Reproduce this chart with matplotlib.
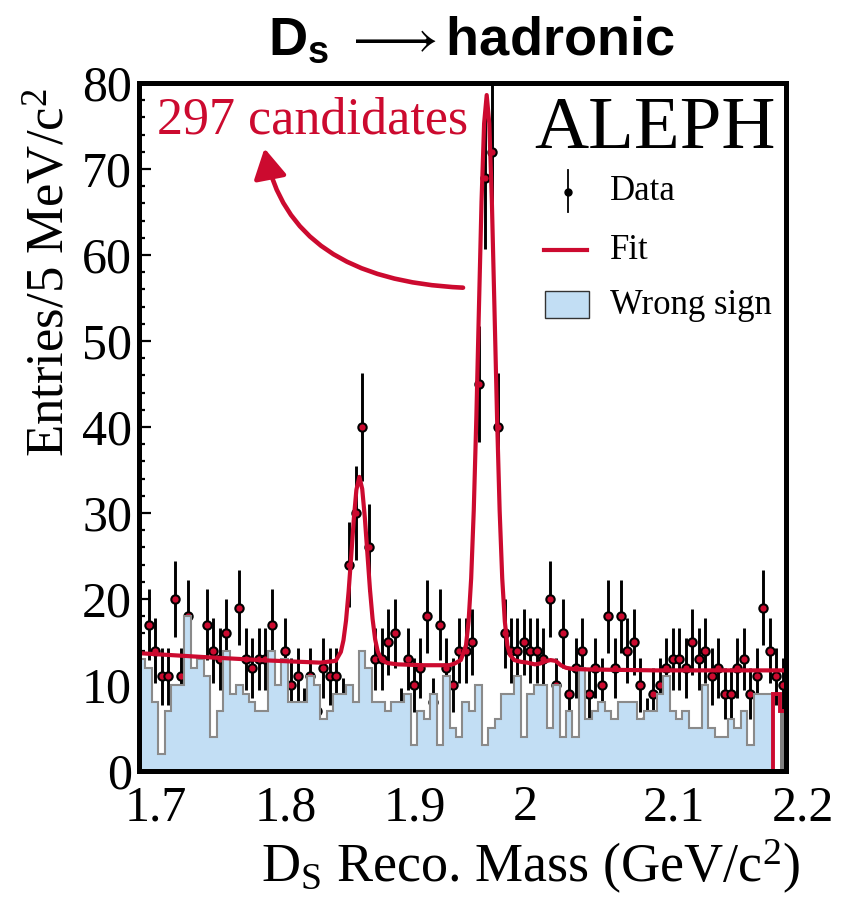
import numpy as np
import matplotlib
matplotlib.use("Agg")
import matplotlib.pyplot as plt
import matplotlib.transforms as mtransforms
from matplotlib.path import Path
from matplotlib.patches import FancyArrowPatch, Rectangle
from matplotlib.lines import Line2D
from matplotlib.ticker import MultipleLocator, FormatStrFormatter

plt.rcParams['font.family'] = ['Liberation Serif', 'DejaVu Serif']
plt.rcParams['mathtext.fontset'] = 'custom'
plt.rcParams['mathtext.rm'] = 'Liberation Serif'
plt.rcParams['mathtext.it'] = 'Liberation Serif:italic'
plt.rcParams['mathtext.bf'] = 'Liberation Sans:bold'

RED = '#cc0a2f'
BLUE = '#c2def4'

# ---- data: 100 bins of 5 MeV from 1.70 to 2.20 GeV ----
mass_lo, mass_hi, n_bins = 1.70, 2.20, 100

data_counts = [
    9, 17, 14, 11, 11, 20, 11, 18, 8, 9,
    17, 14, 13, 16, 6, 19, 13, 12, 13, 13,
    17, 7, 14, 10, 11, 7, 11, 7, 12, 11,
    11, 8, 24, 30, 40, 26, 13, 13, 15, 16,
    7, 13, 10, 12, 18, 8, 17, 12, 10, 14,
    14, 15, 45, 69, 72, 40, 16, 14, 14, 15,
    14, 14, 13, 20, 10, 16, 9, 12, 14, 9,
    12, 10, 18, 12, 18, 14, 15, 10, 6, 9,
    10, 12, 13, 13, 12, 15, 13, 14, 11, 12,
    9, 9, 12, 13, 9, 11, 19, 14, 11, 10,
]

wrong_sign = [
    13, 12, 8, 2, 7, 10, 10, 18, 12, 13,
    11, 4, 7, 14, 9, 10, 9, 8, 7, 7,
    14, 10, 13, 8, 8, 8, 11, 10, 6, 7,
    9, 9, 10, 8, 14, 12, 8, 8, 7, 8,
    8, 9, 3, 7, 6, 9, 3, 11, 5, 4,
    8, 7, 10, 3, 5, 6, 9, 9, 11, 4,
    9, 10, 10, 5, 10, 4, 7, 4, 12, 6,
    7, 8, 7, 6, 8, 8, 8, 6, 7, 7,
    9, 11, 7, 6, 7, 5, 5, 10, 5, 4,
    4, 6, 5, 7, 3, 9, 9, 9, 9, 7,
]

# last two bins drawn with red outline in the original
end_bins = [9, 7]

# fit curve
fit_mass = [1.700, 1.750, 1.800, 1.840, 1.852, 1.856, 1.858, 1.860, 1.862,
            1.864, 1.866, 1.868, 1.8703, 1.8725, 1.8745, 1.8765, 1.8785,
            1.8805, 1.8825, 1.8845, 1.8875, 1.892, 1.900, 1.920, 1.940,
            1.944, 1.9487, 1.9527, 1.9547, 1.9567, 1.9587, 1.9607, 1.9627,
            1.9647, 1.9667, 1.9687, 1.9707, 1.9727, 1.9747, 1.9767, 1.9787,
            1.9807, 1.9827, 1.9847, 1.9867, 1.990, 1.995, 2.000, 2.006,
            2.010, 2.014, 2.018, 2.022, 2.026, 2.030, 2.036, 2.050, 2.100,
            2.200]
fit_value = [13.7, 13.25, 12.85, 12.6, 12.8, 13.85, 15.2, 17.5, 20.9,
             25.0, 29.3, 32.7, 34.2, 32.8, 29.5, 25.3, 21.1,
             17.7, 15.3, 13.9, 12.9, 12.55, 12.4, 12.3, 12.3,
             12.5, 12.9, 14.6, 17.4, 22.4, 30.3, 41.1, 53.8,
             66.2, 75.3, 78.6, 75.3, 66.2, 53.8, 41.1, 30.3,
             22.4, 17.4, 14.6, 13.5, 12.9, 12.7, 12.6, 12.4,
             12.5, 12.75, 12.9, 12.8, 12.3, 12.0, 11.85, 11.8, 11.7,
             11.7]

edges = np.linspace(mass_lo, mass_hi, n_bins + 1)
centers = 0.5 * (edges[:-1] + edges[1:])
counts = np.array(data_counts, dtype=float)

fig = plt.figure(figsize=(8.43, 9.10), dpi=100)
ax = fig.add_axes([139 / 843, 139 / 910, 647 / 843, 688 / 910])

# data points (drawn under the wrong-sign histogram, as in the original)
ax.errorbar(centers, counts, yerr=np.sqrt(counts), fmt='o', color='black',
            ecolor='black', elinewidth=2.1, capsize=0, ms=6.0,
            mfc=RED, mec='black', mew=1.5, zorder=2)

# wrong sign histogram
ax.stairs(wrong_sign[:98], edges[:99], fill=True, color=BLUE, zorder=3)
ax.stairs(wrong_sign[:98], edges[:99], color='#8a8a8a', lw=1.5, zorder=3.1)
ax.stairs(end_bins[1:], edges[99:], fill=True, color='#808080', zorder=3.2)
ax.stairs(end_bins, edges[98:], baseline=0, color=RED, lw=2.8, zorder=3.3)

# fit
ax.plot(fit_mass, fit_value, color=RED, lw=3.0, zorder=4,
        solid_joinstyle='round')

ax.set_xlim(mass_lo, mass_hi)
ax.set_ylim(0, 80)
ax.xaxis.set_major_locator(MultipleLocator(0.1))
ax.xaxis.set_minor_locator(MultipleLocator(0.02))
ax.yaxis.set_major_locator(MultipleLocator(10))
ax.yaxis.set_minor_locator(MultipleLocator(2))
ax.xaxis.set_major_formatter(FormatStrFormatter('%g'))
ax.tick_params(which='both', direction='in', top=False, right=False,
               width=1.6, labelsize=36)
ax.tick_params(which='major', length=8.5)
ax.tick_params(which='minor', length=4.3)
ax.tick_params(axis='x', pad=10)
ax.tick_params(axis='y', pad=5)
for sp in ax.spines.values():
    sp.set_linewidth(3.6)
    sp.set_zorder(10)

# x labels in the original start a little left of the tick
shift = mtransforms.ScaledTranslation(-0.14, 0, fig.dpi_scale_trans)
for lab in ax.get_xticklabels():
    lab.set_horizontalalignment('left')
    lab.set_transform(lab.get_transform() + shift)

# annotations
ax.text(0.028, 0.927, '297 candidates', transform=ax.transAxes, color=RED,
        fontsize=37.5, ha='left', va='baseline', zorder=6)
ax.text(0.797, 0.9055, 'ALEPH', transform=ax.transAxes, fontsize=54,
        ha='center', va='baseline', zorder=6)

# curved arrow
arrow_path = Path([(1.9504, 56.2), (1.8167, 57.1), (1.7970, 72.4)],
                  [Path.MOVETO, Path.CURVE3, Path.CURVE3])
arr = FancyArrowPatch(path=arrow_path,
                      arrowstyle='-|>,head_length=0.75,head_width=0.42',
                      mutation_scale=24, color=RED, lw=3.3, zorder=6)
ax.add_patch(arr)

# hand-placed legend (axes fractions)
ax.add_line(Line2D([0.663, 0.663], [0.874, 0.812], color='black', lw=1.3,
                   transform=ax.transAxes, zorder=6))
ax.add_line(Line2D([0.663], [0.842], marker='o', ms=5, color='black',
                   transform=ax.transAxes, zorder=6))
ax.text(0.728, 0.842, 'Data', transform=ax.transAxes, fontsize=25,
        va='center', ha='left', zorder=6)
ax.add_line(Line2D([0.626, 0.692], [0.757, 0.757], color=RED, lw=3.0,
                   transform=ax.transAxes, zorder=6))
ax.text(0.728, 0.757, 'Fit', transform=ax.transAxes, fontsize=25,
        va='center', ha='left', zorder=6)
ax.add_patch(Rectangle((0.628, 0.659), 0.068, 0.039, transform=ax.transAxes,
                       facecolor=BLUE, edgecolor='#333333', lw=1.0, zorder=6))
ax.text(0.728, 0.676, 'Wrong sign', transform=ax.transAxes, fontsize=25,
        va='center', ha='left', zorder=6)

# axis titles
fig.text(0.060, 0.903, r'Entries/5 MeV/c$^{2}$', rotation=90, fontsize=38,
         ha='center', va='top')
fig.text(0.949, 0.030, r'D$_{\rm S}$ Reco. Mass (GeV/c$^{2}$)', fontsize=39,
         ha='right', va='baseline')
fig.text(0.5587, 0.9396, r'$\mathbf{D_s}$ $\longrightarrow$hadronic',
         family=['Liberation Sans', 'DejaVu Sans'], weight='bold',
         fontsize=39, ha='center', va='baseline')

fig.savefig('out.png', dpi=100)
